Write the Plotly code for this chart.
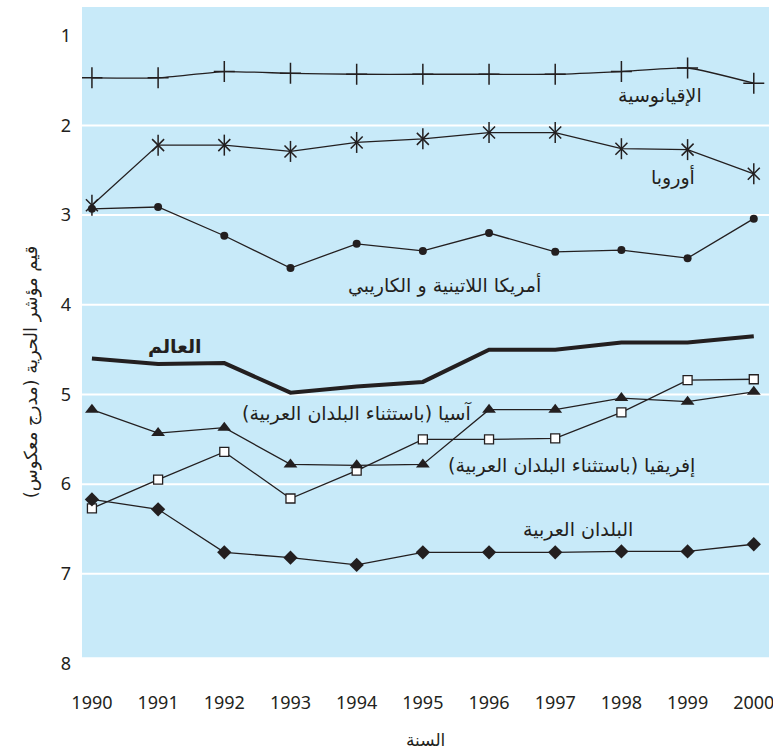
import plotly.graph_objects as go

years = [1990, 1991, 1992, 1993, 1994, 1995, 1996, 1997, 1998, 1999, 2000]
oceania = [1.47, 1.47, 1.40, 1.42, 1.43, 1.43, 1.43, 1.43, 1.40, 1.36, 1.53]
europe = [2.89, 2.22, 2.22, 2.29, 2.19, 2.15, 2.08, 2.08, 2.26, 2.27, 2.54]
latam = [2.93, 2.91, 3.23, 3.59, 3.32, 3.40, 3.20, 3.41, 3.39, 3.48, 3.04]
world = [4.60, 4.66, 4.65, 4.98, 4.91, 4.86, 4.50, 4.50, 4.42, 4.42, 4.35]
asia = [5.17, 5.43, 5.37, 5.78, 5.79, 5.78, 5.17, 5.17, 5.04, 5.08, 4.97]
africa = [6.27, 5.95, 5.64, 6.16, 5.85, 5.50, 5.50, 5.49, 5.20, 4.84, 4.83]
arab = [6.17, 6.28, 6.76, 6.82, 6.90, 6.76, 6.76, 6.76, 6.75, 6.75, 6.67]

ytick_vals = [1, 2, 3, 4, 5, 6, 7, 8]
grid_vals = [2, 3, 4, 5, 6, 7]

labels = [
    ("الإقيانوسية", 1998.58, 1.67, False),
    ("أوروبا", 1998.78, 2.58, False),
    ("أمريكا اللاتينية و الكاريبي", 1995.33, 3.78, False),
    ("العالم", 1991.25, 4.46, True),
    ("آسيا (باستثناء البلدان العربية)", 1994.0, 5.21, False),
    ("إفريقيا (باستثناء البلدان العربية)", 1997.25, 5.80, False),
    ("البلدان العربية", 1997.34, 6.50, False),
]

ink = "#231f20"
bg = "#c8eaf9"
arfont = "DejaVu Sans"

fig = go.Figure()

fig.add_trace(go.Scatter(x=years, y=oceania, mode="lines+markers",
                         line=dict(color=ink, width=1.3, shape="spline", smoothing=0.5),
                         marker=dict(symbol="cross-thin", size=15, line=dict(color=ink, width=1.5))))
fig.add_trace(go.Scatter(x=years, y=europe, mode="lines+markers",
                         line=dict(color=ink, width=1.3),
                         marker=dict(symbol="x-thin", size=12, line=dict(color=ink, width=1.5))))
fig.add_trace(go.Scatter(x=years, y=europe, mode="markers",
                         marker=dict(symbol="line-ns", size=15, line=dict(color=ink, width=1.5))))
fig.add_trace(go.Scatter(x=years, y=latam, mode="lines+markers",
                         line=dict(color=ink, width=1.3),
                         marker=dict(symbol="circle", size=8, color=ink)))
fig.add_trace(go.Scatter(x=years, y=world, mode="lines",
                         line=dict(color=ink, width=4)))
fig.add_trace(go.Scatter(x=years, y=africa, mode="lines+markers",
                         line=dict(color=ink, width=1.3),
                         marker=dict(symbol="square", size=9, color="white", line=dict(color=ink, width=1.3))))
fig.add_trace(go.Scatter(x=years, y=asia, mode="lines+markers",
                         line=dict(color=ink, width=1.3),
                         marker=dict(symbol="triangle-up", size=12, color=ink)))
fig.add_trace(go.Scatter(x=years, y=arab, mode="lines+markers",
                         line=dict(color=ink, width=1.3),
                         marker=dict(symbol="diamond", size=11, color=ink)))

shapes = [dict(type="rect", xref="paper", x0=0, x1=1, yref="y", y0=0.68, y1=7.93,
               fillcolor=bg, line=dict(width=0), layer="below")]
for g in grid_vals:
    shapes.append(dict(type="line", xref="paper", x0=0, x1=1, yref="y", y0=g, y1=g,
                       line=dict(color="white", width=2), layer="below"))

annotations = []
for txt, x, y, bold in labels:
    annotations.append(dict(text=f"<b>{txt}</b>" if bold else txt, x=x, y=y, xref="x", yref="y",
                            showarrow=False, font=dict(family=arfont, size=19, color=ink)))
annotations.append(dict(text="قيم مؤشر الحرية (مدرج معكوس)", textangle=-90,
                        xref="paper", x=-0.093, yref="y", y=4.75, showarrow=False,
                        font=dict(family=arfont, size=18, color=ink)))
annotations.append(dict(text="السنة", xref="paper", x=0.5, yref="paper", y=-0.1157,
                        yanchor="middle", showarrow=False,
                        font=dict(family=arfont, size=17, color=ink)))

fig.update_layout(
    width=773, height=753,
    margin=dict(l=82, r=4, t=7, b=89, autoexpand=False),
    paper_bgcolor="white", plot_bgcolor="white",
    showlegend=False,
    shapes=shapes, annotations=annotations,
    xaxis=dict(range=[1989.85, 2000.23], tickvals=years, ticktext=[str(y) for y in years],
               showgrid=False, zeroline=False, showline=False, ticks="",
               ticklabelstandoff=26, automargin=False, ticklabeloverflow="allow",
               tickfont=dict(family="Noto Sans", size=18, color=ink)),
    yaxis=dict(range=[8.005, 0.68], tickvals=ytick_vals, ticktext=[str(v) for v in ytick_vals],
               showgrid=False, zeroline=False, showline=False, ticks="",
               ticklabelstandoff=10, automargin=False, ticklabeloverflow="allow",
               tickfont=dict(family="Noto Sans", size=18, color=ink)),
)

fig.write_html("out.html", config={"displayModeBar": False},
               post_script="document.body.style.margin='0';document.body.style.overflow='hidden';")
